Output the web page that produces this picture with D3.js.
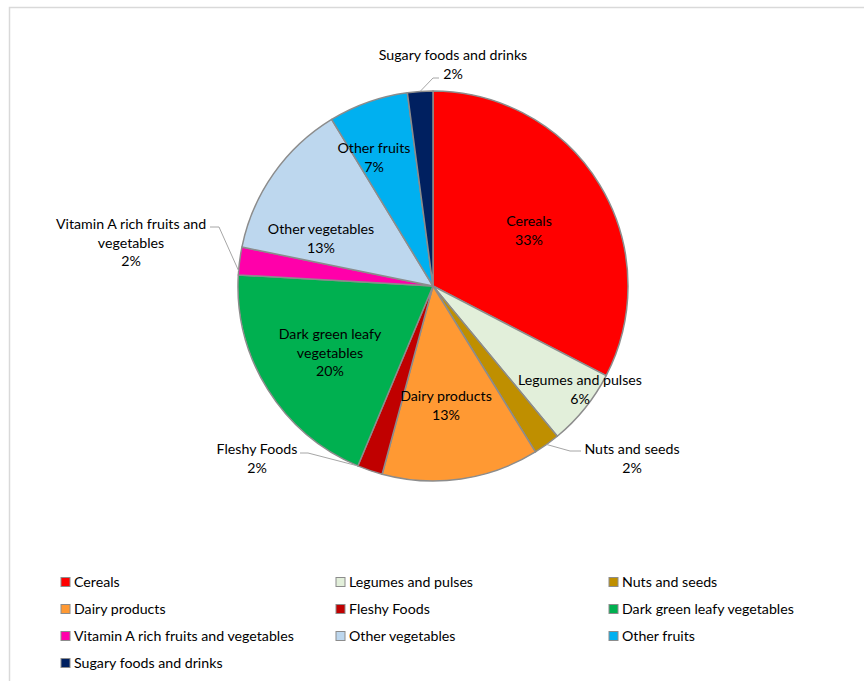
<!DOCTYPE html>
<html>
<head>
<meta charset="utf-8">
<script src="https://cdn.jsdelivr.net/npm/d3@7"></script>
<style>
  html, body { margin: 0; padding: 0; background: #fff; }
  svg { display: block; }
  text { font-family: Lato, "Open Sans", sans-serif; fill: #000; }
</style>
</head>
<body>
<svg id="chart" width="864" height="681"></svg>
<script>
// ---- Data ----
const categories = [
  "Cereals", "Legumes and pulses", "Nuts and seeds", "Dairy products", "Fleshy Foods",
  "Dark green leafy vegetables", "Vitamin A rich fruits and vegetables",
  "Other vegetables", "Other fruits", "Sugary foods and drinks"
];
const shares = [32.6, 6.4, 2.2, 13.0, 2.1, 19.6, 2.3, 13.1, 6.6, 2.1];
const colors = [
  "#FF0000", "#E2EFDA", "#BF8F00", "#FF9933", "#C00000",
  "#00B050", "#FF00AA", "#BDD7EE", "#00B0F0", "#002060"
];

// ---- Layout ----
const W = 864, H = 681;
const cx = 433, cy = 286, R = 195;
const fontSize = 14.2, lineH = 18.6;

// label anchor (centre of first line) relative to pie centre, and line wraps
const labelLayout = {
  "Cereals": { x: 96, y: -65, lines: ["Cereals"] },
  "Legumes and pulses": { x: 147, y: 94, lines: ["Legumes and pulses"] },
  "Nuts and seeds": { x: 199, y: 163, lines: ["Nuts and seeds"], leader: { frac: 0.5, elbow: [137, 165], end: [148, 165] } },
  "Dairy products": { x: 13, y: 110, lines: ["Dairy products"] },
  "Fleshy Foods": { x: -176, y: 163, lines: ["Fleshy Foods"], leader: { frac: 1.0, elbow: [-125, 167], end: [-133, 167] } },
  "Dark green leafy vegetables": { x: -103, y: 48, lines: ["Dark green leafy", "vegetables"] },
  "Vitamin A rich fruits and vegetables": { x: -302, y: -62, lines: ["Vitamin A rich fruits and", "vegetables"], leader: { frac: 0.15, elbow: [-214, -59], end: [-223, -59] } },
  "Other vegetables": { x: -112, y: -57, lines: ["Other vegetables"] },
  "Other fruits": { x: -59, y: -138, lines: ["Other fruits"] },
  "Sugary foods and drinks": { x: 20, y: -231, lines: ["Sugary foods and drinks"], leader: { frac: 0.5, elbow: [0, -208], end: [6, -208] } }
};

const svg = d3.select("#chart");

// outer chart frame
svg.append("rect")
  .attr("x", 9.5).attr("y", 7.5)
  .attr("width", 900).attr("height", 720)
  .attr("fill", "none").attr("stroke", "#D9D9D9").attr("stroke-width", 1.5);

const data = categories.map((c, i) => ({ name: c, value: shares[i], color: colors[i] }));

const pie = d3.pie().sort(null).value(d => d.value);
const arcs = pie(data);
const arc = d3.arc().innerRadius(0).outerRadius(R);

const g = svg.append("g").attr("transform", `translate(${cx},${cy})`);

g.selectAll("path.slice")
  .data(arcs)
  .enter().append("path")
  .attr("class", "slice")
  .attr("d", arc)
  .attr("fill", d => d.data.color)
  .attr("stroke", "#8C8C8C")
  .attr("stroke-width", 1.5)
  .attr("stroke-linejoin", "round");

// leader lines
arcs.forEach(a => {
  const L = labelLayout[a.data.name];
  if (!L.leader) return;
  const ang = a.startAngle + (a.endAngle - a.startAngle) * L.leader.frac;
  const px = R * Math.sin(ang), py = -R * Math.cos(ang);
  g.append("polyline")
    .attr("points", [[px, py], L.leader.elbow, L.leader.end].map(p => p.join(",")).join(" "))
    .attr("fill", "none")
    .attr("stroke", "#A6A6A6")
    .attr("stroke-width", 1);
});

// data labels
arcs.forEach(a => {
  const L = labelLayout[a.data.name];
  const lines = L.lines.concat([Math.round(a.data.value) + "%"]);
  const t = g.append("text")
    .attr("text-anchor", "middle")
    .style("font-size", fontSize + "px");
  lines.forEach((s, i) => {
    t.append("tspan")
      .attr("x", L.x)
      .attr("y", L.y + i * lineH)
      .attr("dy", "0.35em")
      .text(s);
  });
});

// legend
const legendCols = [61, 336, 609];
const legendRow0 = 582, legendRowH = 27;
const legend = svg.append("g");
data.forEach((d, i) => {
  const col = i % 3, row = Math.floor(i / 3);
  const x = legendCols[col], y = legendRow0 + row * legendRowH;
  legend.append("rect")
    .attr("x", x).attr("y", y - 4.5)
    .attr("width", 9).attr("height", 9)
    .attr("fill", d.color)
    .attr("stroke", "#8C8C8C").attr("stroke-width", 1);
  legend.append("text")
    .attr("x", x + 13).attr("y", y)
    .attr("dy", "0.35em")
    .style("font-size", fontSize + "px")
    .text(d.name);
});
</script>
</body>
</html>
